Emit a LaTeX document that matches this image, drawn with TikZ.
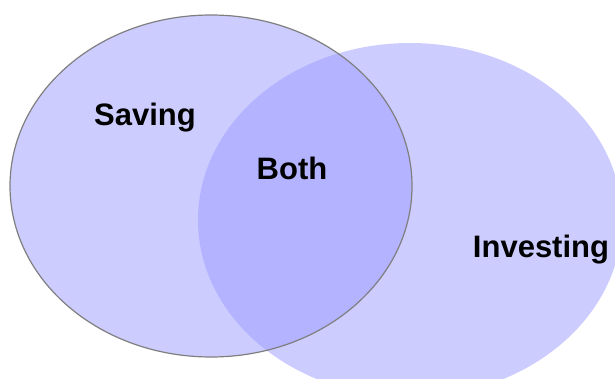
\documentclass[tikz,border=0pt]{standalone}
\usepackage{fontspec}
\setmainfont{Liberation Sans}
\definecolor{venn}{HTML}{CCCCFF}
\definecolor{both}{HTML}{B3B3FF}
\definecolor{rim}{HTML}{7F7F7F}
\tikzset{
    setfill/.style = {fill=venn},
    overlap/.style = {fill=both},
    setrim/.style  = {draw=rim,
                    line width=1.2pt},
    setlabel/.style = {text=black,
                    font=\bfseries\fontsize{31}{37}\selectfont,
                    anchor=base,
                    inner sep=0pt}}

\begin{document}
\begin{tikzpicture}[x=1pt,y=-1pt]
                \useasboundingbox (0,0) rectangle (615,379);
                \clip (0,0) rectangle (615,379);
                % the two sets
                \fill[setfill]   (211,186) ellipse [x radius=201, y radius=171];
                \fill[setfill]   (410,220) ellipse [x radius=212, y radius=177];
                \begin{scope}
                    \clip (211,186) ellipse [x radius=201, y radius=171];
                    \fill[overlap] (410,220) ellipse [x radius=212, y radius=177];
                \end{scope}
                \draw[setrim]    (211,186) ellipse [x radius=201, y radius=171];
                % labels
                \node[setlabel]  (sav) at (145,126) {Saving};
                \node[setlabel]  (bot) at (292,180) {Both};
                \node[setlabel]  (inv) at (541,257) {Investing};
        \end{tikzpicture}
\end{document}
